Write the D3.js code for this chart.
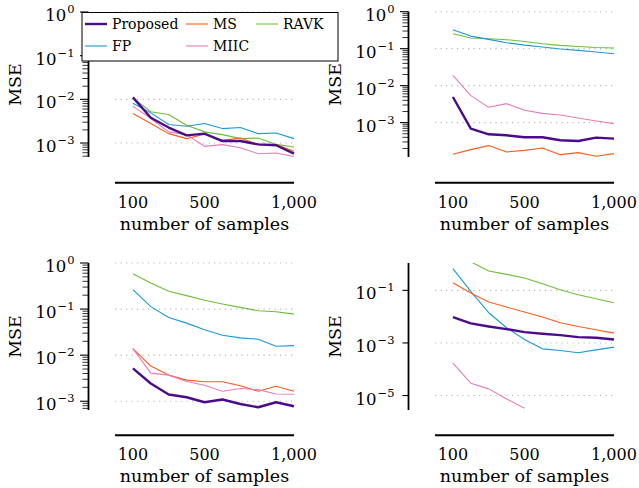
<!DOCTYPE html>
<html>
<head>
<meta charset="utf-8">
<script src="https://cdn.jsdelivr.net/npm/d3@7"></script>
<style>
body { margin: 0; background: #fff; }
text { font-family: "DejaVu Serif", serif; fill: #000; }
</style>
</head>
<body>
<svg id="chart" width="639" height="488"></svg>
<script>
var samples = [100, 200, 300, 400, 500, 600, 700, 800, 900, 1000];
var xTicks = [100, 500, 1000];
var xTickLabels = ["100", "500", "1,000"];
var methods = ["Proposed", "MS", "RAVK", "FP", "MIIC"];
var colors = ["#4b0c8c", "#ff5a1a", "#6cbf3a", "#1b9ad8", "#e87cb8"];

// top left
var p1Proposed = [0.0111, 0.0038, 0.00226, 0.0015, 0.00164, 0.00111, 0.00111, 0.00093, 0.00089, 0.00057];
var p1MS = [0.00475, 0.00279, 0.00164, 0.00126, 0.00159, 0.00115, 0.0013, 0.00092, 0.00092, 0.00065];
var p1RAVK = [0.0108, 0.0052, 0.0045, 0.00256, 0.0018, 0.00156, 0.00126, 0.0013, 0.00093, 0.00081];
var p1FP = [0.0081, 0.0049, 0.00265, 0.00243, 0.00279, 0.00214, 0.00226, 0.00164, 0.0017, 0.00126];
var p1MIIC = [0.007, 0.00365, 0.0018, 0.00156, 0.00084, 0.00092, 0.00078, 0.00057, 0.00059, 0.00049];

// top right
var p2Proposed = [0.00493, 0.000687, 0.000483, 0.000454, 0.000401, 0.000401, 0.000333, 0.000319, 0.000393, 0.000369];
var p2MS = [0.000139, 0.000186, 0.000239, 0.000161, 0.000178, 0.000206, 0.000136, 0.000154, 0.000123, 0.000145];
var p2RAVK = [0.254, 0.194, 0.186, 0.175, 0.157, 0.136, 0.123, 0.115, 0.108, 0.104];
var p2FP = [0.326, 0.219, 0.178, 0.145, 0.125, 0.111, 0.0977, 0.09, 0.081, 0.0731];
var p2MIIC = [0.019, 0.00536, 0.00259, 0.00326, 0.00215, 0.00178, 0.00161, 0.00133, 0.00111, 0.00094];

// bottom left
var p3Proposed = [0.00516, 0.00243, 0.0014, 0.00122, 0.00095, 0.00109, 0.00087, 0.00074, 0.00095, 0.00078];
var p3MS = [0.0139, 0.00581, 0.00369, 0.00287, 0.00264, 0.00264, 0.00216, 0.00165, 0.00212, 0.00165];
var p3RAVK = [0.582, 0.37, 0.243, 0.196, 0.155, 0.129, 0.109, 0.092, 0.0877, 0.0779];
var p3FP = [0.265, 0.113, 0.0659, 0.0496, 0.0355, 0.0271, 0.0237, 0.0222, 0.0156, 0.0161];
var p3MIIC = [0.0139, 0.00408, 0.00369, 0.00268, 0.00223, 0.00165, 0.00189, 0.00179, 0.00144, 0.00142];

// bottom right
var p4Proposed = [0.00962, 0.00552, 0.00424, 0.00336, 0.00258, 0.00223, 0.00198, 0.00166, 0.00157, 0.00135];
var p4MS = [0.195, 0.0789, 0.0358, 0.0231, 0.0149, 0.00962, 0.00585, 0.00424, 0.00316, 0.00236];
var p4RAVK = [2.5, 1.22, 0.543, 0.406, 0.294, 0.179, 0.106, 0.0682, 0.048, 0.0338];
var p4FP = [0.667, 0.0914, 0.0141, 0.00377, 0.00135, 0.000597, 0.000516, 0.000421, 0.000547, 0.000692];
var p4MIIC = [0.00017, 0.0000294, 0.0000179, 0.00000745, 0.00000328, null, null, null, null, null];

var panels = [
    {ax: 88.5, x0: 115, x1: 294, top: 12, bottom: 157, lo: -3.32, hi: 0, majors: [0, -1, -2, -3], minor: true, xAxisY: 182.7, titleX: 21,
     series: [p1Proposed, p1MS, p1RAVK, p1FP, p1MIIC]},
    {ax: 408.5, x0: 435, x1: 614, top: 11.7, bottom: 157, lo: -3.93, hi: 0, majors: [0, -1, -2, -3], minor: true, xAxisY: 182.7, titleX: 341,
     series: [p2Proposed, p2MS, p2RAVK, p2FP, p2MIIC]},
    {ax: 88.5, x0: 115, x1: 294, top: 263, bottom: 410, lo: -3.19, hi: 0, majors: [0, -1, -2, -3], minor: true, xAxisY: 435.3, titleX: 21,
     series: [p3Proposed, p3MS, p3RAVK, p3FP, p3MIIC]},
    {ax: 408.5, x0: 435, x1: 614, top: 263, bottom: 410, lo: -5.55, hi: 0.04, majors: [-1, -3, -5], minor: false, xAxisY: 435.3, titleX: 341,
     series: [p4Proposed, p4MS, p4RAVK, p4FP, p4MIIC]}
];

var svg = d3.select("#chart");

panels.forEach(function(p, pi) {
    var g = svg.append("g");
    var x = d3.scaleLinear().domain([0, 1000]).range([p.x0, p.x1]);
    var y = d3.scaleLog().domain([Math.pow(10, p.lo), Math.pow(10, p.hi)]).range([p.bottom, p.top]);

    // dotted grid at the decades
    g.selectAll(".grid").data(p.majors).enter().append("line")
        .attr("x1", p.x0).attr("x2", p.x1)
        .attr("y1", function(d) { return y(Math.pow(10, d)); })
        .attr("y2", function(d) { return y(Math.pow(10, d)); })
        .style("stroke", "#b8b8b8").style("stroke-width", 1.1)
        .style("stroke-dasharray", "1.2 4.3");

    // clipped lines
    var clipId = "clip" + pi;
    svg.append("clipPath").attr("id", clipId).append("rect")
        .attr("x", p.x0 - 5).attr("y", p.top).attr("width", p.x1 - p.x0 + 10).attr("height", p.bottom - p.top);

    var line = d3.line()
        .defined(function(d) { return d != null; })
        .x(function(d, i) { return x(samples[i]); })
        .y(function(d) { return y(d); });

    var order = [2, 3, 1, 4, 0];
    var lg = g.append("g").attr("clip-path", "url(#" + clipId + ")");
    order.forEach(function(k) {
        lg.append("path").datum(p.series[k])
            .attr("d", line)
            .style("fill", "none")
            .style("stroke", colors[k])
            .style("stroke-width", k == 0 ? 2.4 : 1.1)
            .style("stroke-linejoin", "round");
    });

    // y axis line and ticks
    g.append("line").attr("x1", p.ax).attr("x2", p.ax).attr("y1", p.top).attr("y2", p.bottom)
        .style("stroke", "#000").style("stroke-width", 1.8);

    var minors = [];
    if (p.minor) {
        for (var e = Math.floor(p.lo); e < p.hi; e++) {
            for (var m = 2; m < 10; m++) {
                var v = m * Math.pow(10, e);
                if (v >= Math.pow(10, p.lo) && v <= Math.pow(10, p.hi)) minors.push(v);
            }
        }
    }
    g.selectAll(".minor").data(minors).enter().append("line")
        .attr("x1", p.ax - 6).attr("x2", p.ax)
        .attr("y1", function(d) { return y(d); }).attr("y2", function(d) { return y(d); })
        .style("stroke", "#000").style("stroke-width", 0.8);
    g.selectAll(".major").data(p.majors).enter().append("line")
        .attr("x1", p.ax - (p.minor ? 8.5 : 6)).attr("x2", p.ax)
        .attr("y1", function(d) { return y(Math.pow(10, d)); }).attr("y2", function(d) { return y(Math.pow(10, d)); })
        .style("stroke", "#000").style("stroke-width", 1.1);

    var lab = g.selectAll(".ylab").data(p.majors).enter().append("text")
        .attr("x", p.ax - 14)
        .attr("y", function(d) { return y(Math.pow(10, d)) + 9; })
        .attr("text-anchor", "end");
    lab.append("tspan").style("font-size", "16.5px").text("10");
    lab.append("tspan").style("font-size", "11.5px").attr("dx", 1).attr("dy", -8)
        .text(function(d) { return d == 0 ? "0" : "\u2212" + (-d); });

    g.append("text")
        .attr("transform", "translate(" + p.titleX + "," + ((p.top + p.bottom) / 2) + ") rotate(-90)")
        .attr("text-anchor", "middle").style("font-size", "17.5px").text("MSE");

    // x axis
    g.append("line").attr("x1", x(0)).attr("x2", x(1000)).attr("y1", p.xAxisY).attr("y2", p.xAxisY)
        .style("stroke", "#000").style("stroke-width", 2);
    g.selectAll(".xlab").data(xTicks).enter().append("text")
        .attr("x", function(d) { return x(d); })
        .attr("y", p.xAxisY + 25)
        .attr("text-anchor", "middle").style("font-size", "16px")
        .text(function(d, i) { return xTickLabels[i]; });
    g.append("text")
        .attr("x", (p.x0 + p.x1) / 2).attr("y", p.xAxisY + 47)
        .attr("text-anchor", "middle").style("font-size", "17.5px")
        .text("number of samples");
});

// legend over the top left panel
var leg = svg.append("g");
leg.append("rect").attr("x", 82).attr("y", 12.5).attr("width", 256).attr("height", 48.5)
    .style("fill", "#fff").style("stroke", "#000").style("stroke-width", 1);
var colX = [85, 186, 256];
methods.forEach(function(name, i) {
    var cx = colX[i % 3];
    var cy = 24 + Math.floor(i / 3) * 22;
    leg.append("line").attr("x1", cx).attr("x2", cx + 22).attr("y1", cy).attr("y2", cy)
        .style("stroke", colors[i]).style("stroke-width", i == 0 ? 2.4 : 1.1);
    leg.append("text").attr("x", cx + 27).attr("y", cy + 5)
        .style("font-size", "14px").text(name);
});
</script>
</body>
</html>
